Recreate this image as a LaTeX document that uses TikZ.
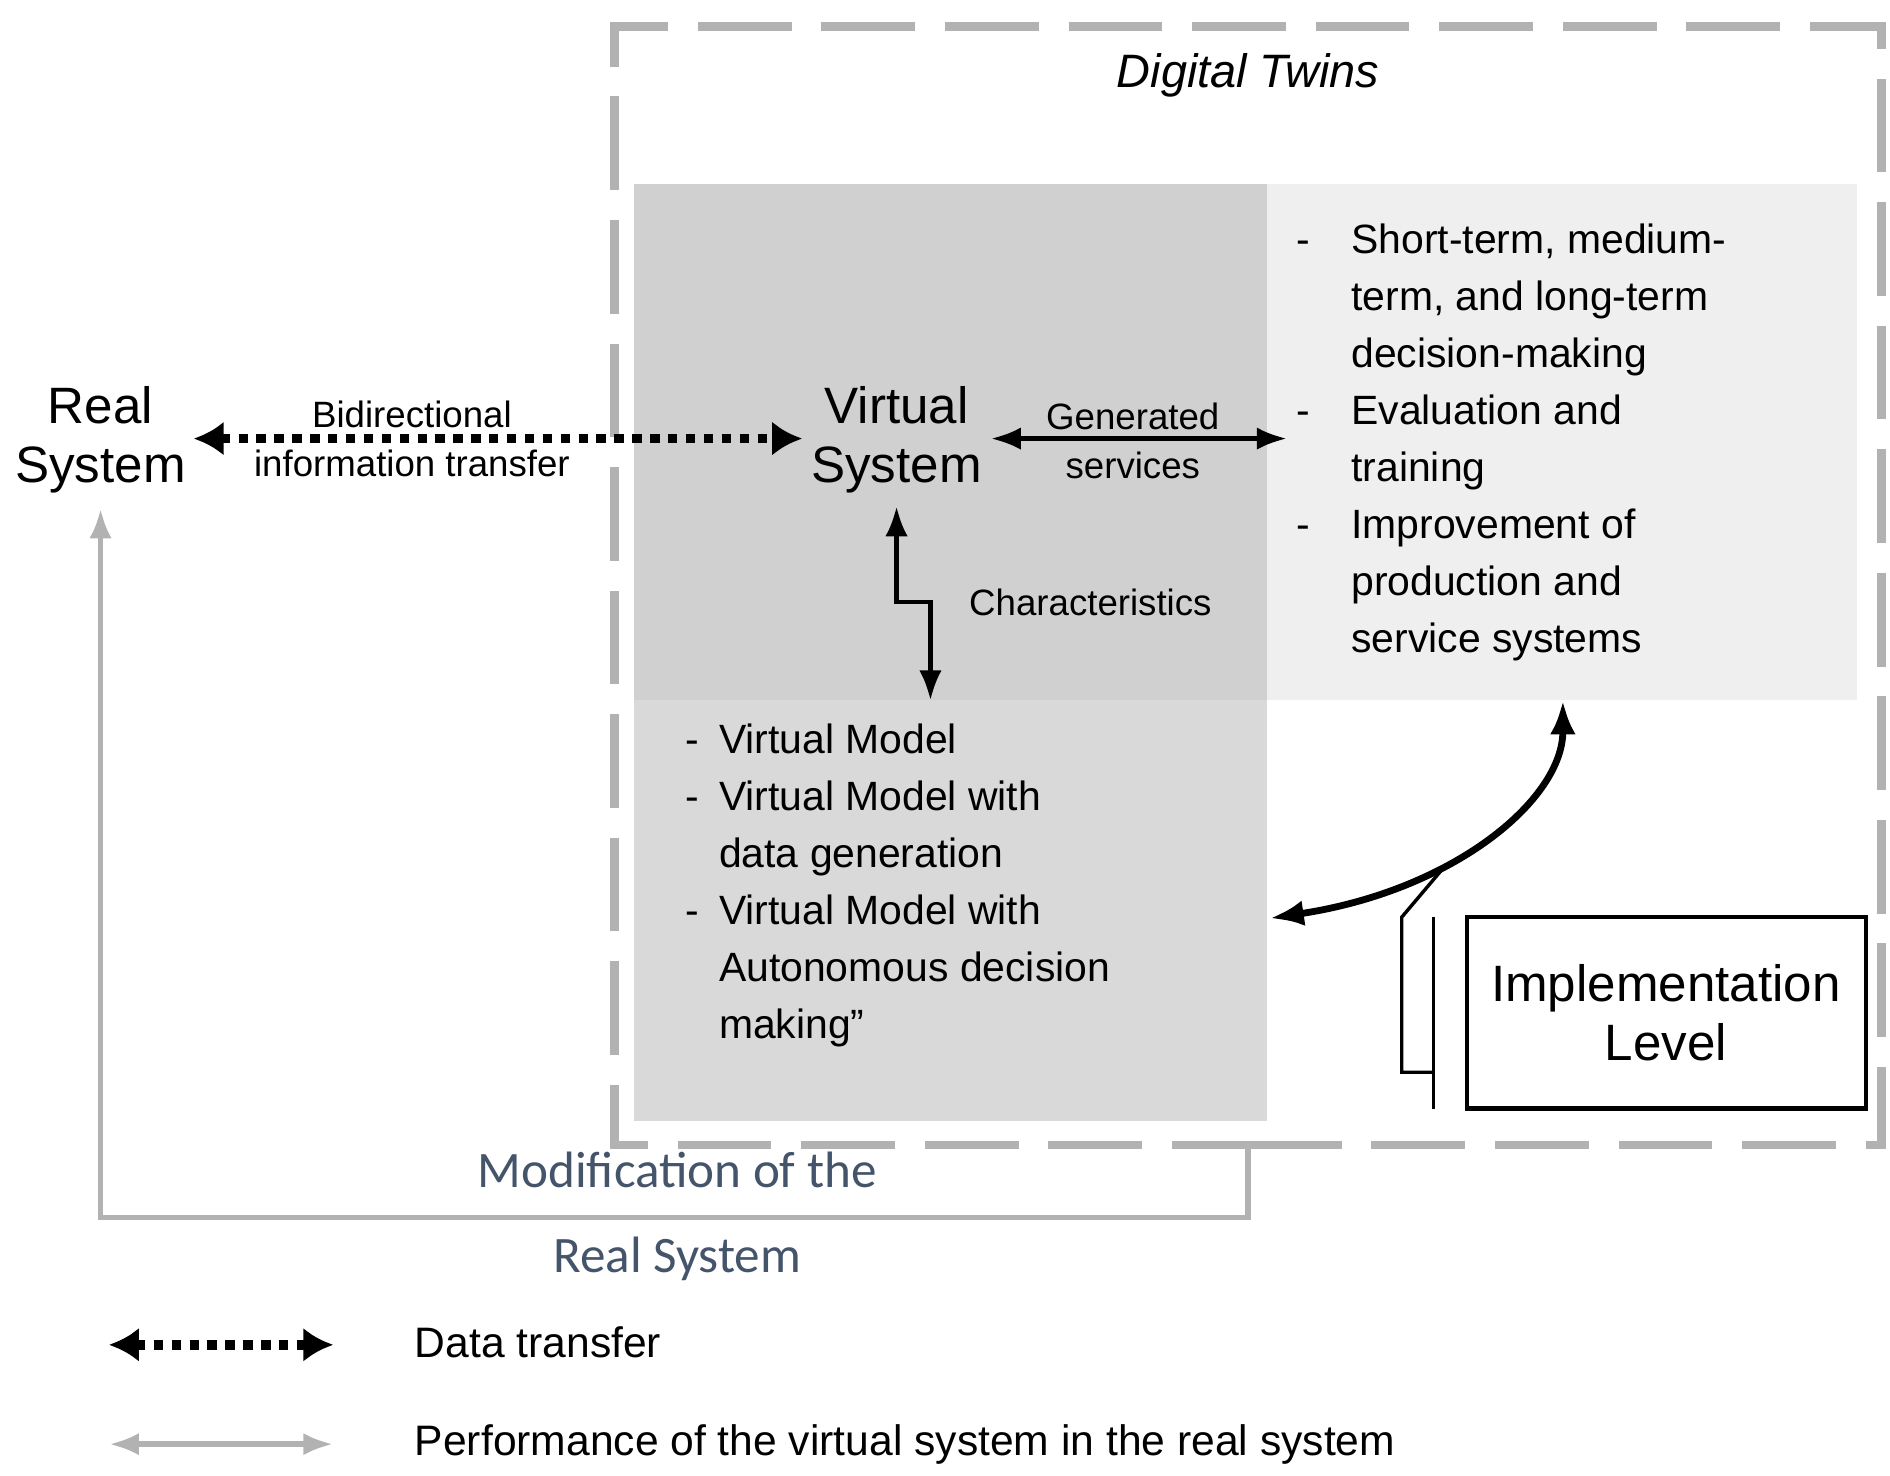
\documentclass[tikz,border=0pt]{standalone}
\usepackage{fontspec}
\setmainfont{Liberation Sans}
\newfontfamily\carlitofont{Carlito}
\usetikzlibrary{arrows.meta}
\definecolor{dg}{HTML}{D0D0D0}
\definecolor{mg}{HTML}{D9D9D9}
\definecolor{lg}{HTML}{EFEFEF}
\definecolor{bl}{HTML}{44546A}
\begin{document}
\begin{tikzpicture}[x=0.01cm,y=-0.01cm,
 dat/.style={line width=2.2pt,dotted,{Latex[length=7pt,width=8pt]}-{Latex[length=7pt,width=8pt]}},
 arr/.style={line width=1pt,{Latex[length=7pt]}-{Latex[length=7pt]}},
 gr/.style={line width=1.3pt,draw=gray!60},
 big/.style={font=\fontsize{12}{14}\selectfont,align=center},
 lst/.style={font=\fontsize{9.6}{13.4}\selectfont,align=left,anchor=north west},
 sm/.style={font=\fontsize{8.6}{11.5}\selectfont,align=center}]
\useasboundingbox (0,0) rectangle (1560,1218);
\fill[dg] (523,152) rectangle (1046,578);
\fill[mg] (523,578) rectangle (1046,925);
\fill[lg] (1046,152) rectangle (1533,578);
\draw[gray!60,line width=2pt,dash pattern=on 22pt off 7pt] (1030,945) -- (1553,945) -- (1553,22) -- (507,22) -- (507,945) -- (1030,945);
\node[font=\fontsize{11}{13}\selectfont\itshape] (dt) at (1030,62) {Digital Twins};
\node[big] (rs) at (83,363) {Real\\System};
\node[big] (vs) at (740,363) {Virtual\\System};
\node[sm] (bi) at (340,362) {Bidirectional\\information transfer};
\node[sm] (gs) at (935,364) {Generated\\services};
\node[sm] (ch) at (900,497) {Characteristics};
\coordinate (d1) at (160,362); \coordinate (d2) at (662,362);
\draw[dat] (d1) -- (d2);
\coordinate (g1) at (818,362); \coordinate (g2) at (1062,362);
\draw[arr] (g1) -- (g2);
\coordinate (c1) at (740,418); \coordinate (c2) at (768,578);
\draw[arr] (c1) -- (740,497) -- (768,497) -- (c2);
\node[lst] (l1) at (553,585) {-\enspace Virtual Model\\-\enspace Virtual Model with\\\phantom{-\enspace}data generation\\-\enspace Virtual Model with\\\phantom{-\enspace}Autonomous decision\\\phantom{-\enspace}making"};
\node[lst] (l2) at (1058,172) {-\quad Short-term, medium-\\\phantom{-\quad}term, and long-term\\\phantom{-\quad}decision-making\\-\quad Evaluation and\\\phantom{-\quad}training\\-\quad Improvement of\\\phantom{-\quad}production and\\\phantom{-\quad}service systems};
\coordinate (k1) at (1048,758); \coordinate (k2) at (1290,578);
\draw[line width=1.6pt,{Latex[length=8pt]}-{Latex[length=8pt]}] (k1) .. controls (1200,735) and (1290,660) .. (k2);
\draw[line width=0.8pt] (1190,718) -- (1157,757) -- (1157,885) -- (1183,885);
\draw[line width=0.8pt] (1183,757) -- (1183,915);
\draw[line width=1pt] (1211,757) rectangle (1540,915);
\node[big] (ilt) at (1375,836) {Implementation\\Level};
\coordinate (m1) at (1030,945);
\draw[gr,-{Latex[length=7pt]}] (m1) -- (1030,1005) -- (83,1005) -- (rs.south);
\node[font=\carlitofont\fontsize{12}{20}\selectfont,text=bl,align=center] (mod) at (559,1004) {Modification of the\\Real System};
\coordinate (e1) at (90,1110); \coordinate (e2) at (275,1110);
\draw[dat] (e1) -- (e2);
\node[font=\fontsize{10}{12}\selectfont,anchor=west] (t1) at (330,1108) {Data transfer};
\coordinate (f1) at (90,1192); \coordinate (f2) at (275,1192);
\draw[gr,{Latex[length=7pt]}-{Latex[length=7pt]}] (f1) -- (f2);
\node[font=\fontsize{10}{12}\selectfont,anchor=west] (t2) at (330,1192) {Performance of the virtual system in the real system};
\end{tikzpicture}
\end{document}
